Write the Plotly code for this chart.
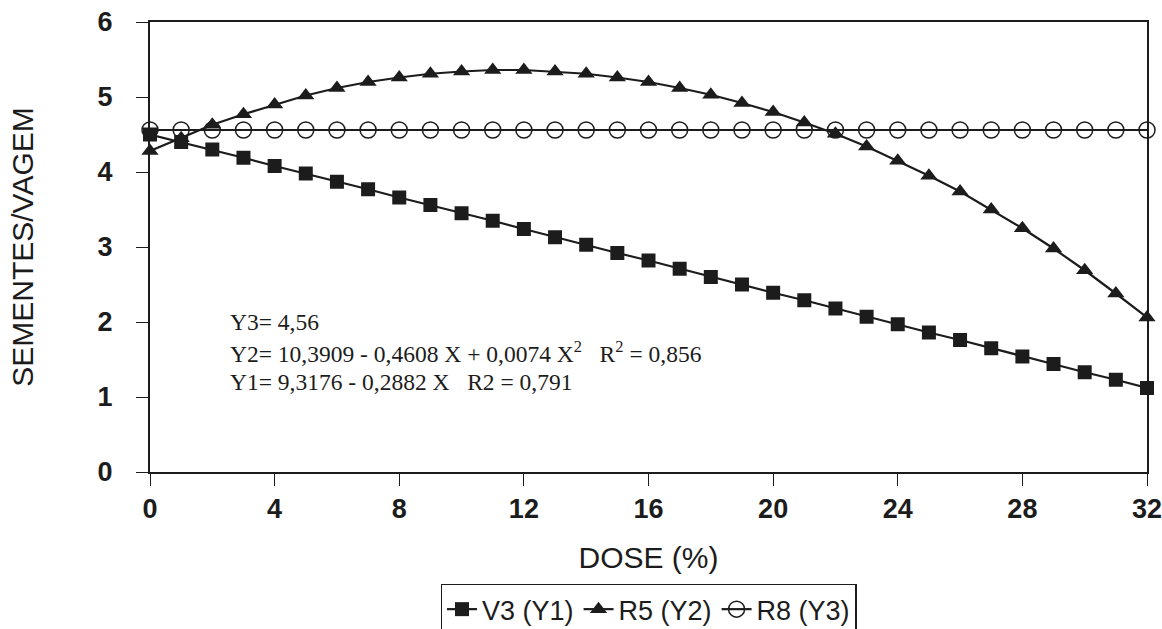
import plotly.graph_objects as go

dose = list(range(0, 33))
v3_y1 = [4.50, 4.40, 4.30, 4.19, 4.08, 3.98, 3.87, 3.77, 3.66, 3.56, 3.45, 3.35,
         3.24, 3.13, 3.03, 2.92, 2.82, 2.71, 2.60, 2.50, 2.39, 2.29, 2.18, 2.07,
         1.97, 1.86, 1.76, 1.65, 1.54, 1.44, 1.33, 1.23, 1.12]
r5_y2 = [4.28, 4.45, 4.63, 4.77, 4.90, 5.02, 5.12, 5.20, 5.26, 5.31, 5.34, 5.36,
         5.36, 5.34, 5.31, 5.26, 5.20, 5.12, 5.03, 4.92, 4.80, 4.66, 4.51, 4.34,
         4.15, 3.95, 3.74, 3.50, 3.25, 2.98, 2.69, 2.38, 2.06]
r8_y3 = [4.56] * 33

x_ticks = [0, 4, 8, 12, 16, 20, 24, 28, 32]
y_ticks = [0, 1, 2, 3, 4, 5, 6]

equations = [
    "Y3= 4,56",
    "Y2= 10,3909 - 0,4608 X + 0,0074 X<sup>2</sup>   R<sup>2</sup> = 0,856",
    "Y1= 9,3176 - 0,2882 X   R2 = 0,791",
]
eq_y = [2.0, 1.6, 1.2]

INK = "#1c1c1c"
SANS = "Liberation Sans, Arial, sans-serif"
SERIF = "Liberation Serif, Times New Roman, serif"

fig = go.Figure()
fig.add_trace(go.Scatter(
    x=dose, y=v3_y1, mode="lines+markers", name="V3 (Y1)",
    line=dict(color=INK, width=2.2),
    marker=dict(symbol="square", size=14, color=INK),
    cliponaxis=False,
))
fig.add_trace(go.Scatter(
    x=dose, y=r5_y2, mode="lines+markers", name="R5 (Y2)",
    line=dict(color=INK, width=2.2),
    marker=dict(symbol="triangle-up", size=15, color=INK),
    cliponaxis=False,
))
fig.add_trace(go.Scatter(
    x=dose, y=r8_y3, mode="lines+markers", name="R8 (Y3)",
    line=dict(color=INK, width=2.2),
    marker=dict(symbol="circle-open", size=16, color=INK, line=dict(width=1.5)),
    cliponaxis=False,
))

for txt, yy in zip(equations, eq_y):
    fig.add_annotation(
        x=2.5, y=yy, xref="x", yref="y", text=txt, showarrow=False,
        xanchor="left", yanchor="middle",
        font=dict(family=SERIF, size=23.5, color=INK),
    )

fig.update_layout(
    width=1162, height=629,
    margin=dict(l=150, r=15, t=22, b=157, autoexpand=False),
    paper_bgcolor="white", plot_bgcolor="white",
    font=dict(family=SANS, color=INK, size=26),
    showlegend=True,
    legend=dict(
        orientation="h", x=0.5, xanchor="center", y=-0.248, yanchor="top",
        bordercolor=INK, borderwidth=1.5, bgcolor="white",
        font=dict(family=SANS, size=27), itemwidth=30,
    ),
)
fig.update_xaxes(
    range=[0, 32], tickvals=x_ticks, ticktext=[str(v) for v in x_ticks],
    ticks="outside", ticklen=12, tickwidth=1.2, tickcolor=INK,
    showline=True, linecolor=INK, linewidth=2, mirror=True,
    showgrid=False, zeroline=False, automargin=False,
    ticklabelstandoff=0, ticklabeloverflow="allow",
    tickfont=dict(family=SANS, size=27, weight="bold"),
    title=dict(text="DOSE (%)", font=dict(family=SANS, size=30), standoff=24),
)
fig.update_yaxes(
    range=[0, 6], tickvals=y_ticks, ticktext=[str(v) for v in y_ticks],
    ticks="outside", ticklen=12, tickwidth=1.2, tickcolor=INK,
    showline=True, linecolor=INK, linewidth=2, mirror=True,
    showgrid=False, zeroline=False, automargin=False,
    ticklabelstandoff=18, ticklabeloverflow="allow",
    tickfont=dict(family=SANS, size=27, weight="bold"),
    title=dict(text="SEMENTES/VAGEM", font=dict(family=SANS, size=30), standoff=55),
)

fig.write_html(
    "out.html",
    config={"displayModeBar": False},
    post_script="document.body.style.margin='0';document.body.style.overflow='hidden';",
)
